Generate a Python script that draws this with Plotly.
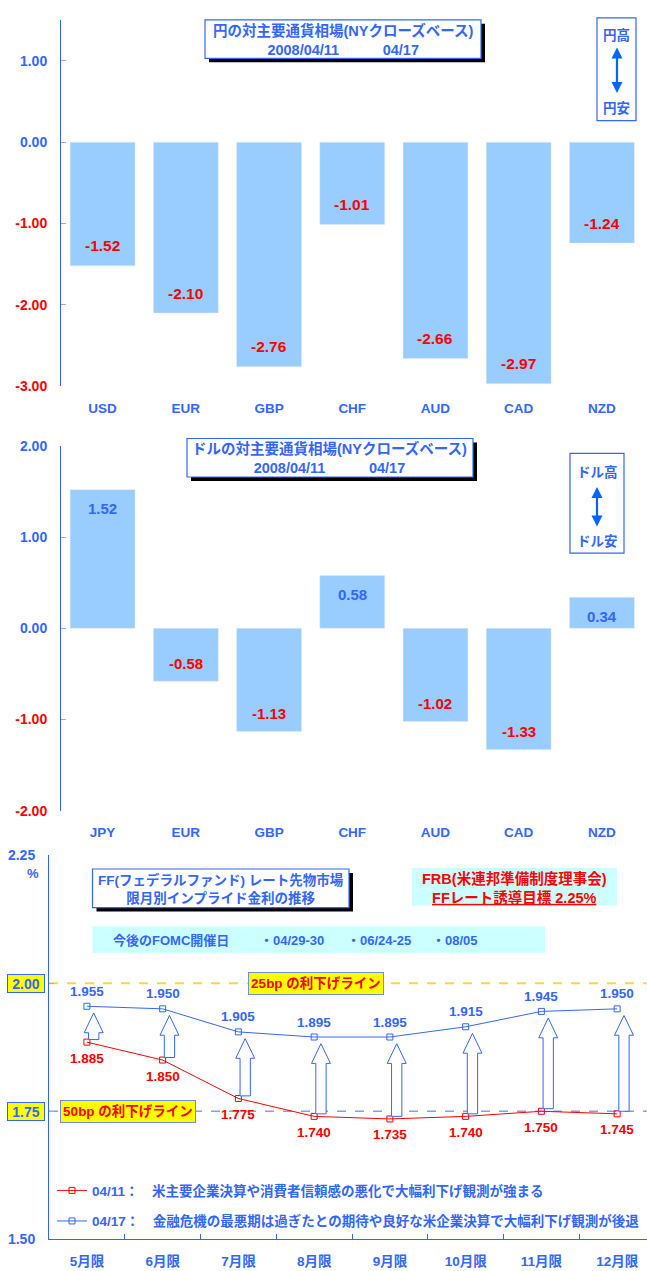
import plotly.graph_objects as go

W, H = 647, 1271

# ---------------- data ----------------
yen_categories = ["USD", "EUR", "GBP", "CHF", "AUD", "CAD", "NZD"]
yen_change = [-1.52, -2.10, -2.76, -1.01, -2.66, -2.97, -1.24]
yen_ticks = [1.0, 0.0, -1.0, -2.0, -3.0]

usd_categories = ["JPY", "EUR", "GBP", "CHF", "AUD", "CAD", "NZD"]
usd_change = [1.52, -0.58, -1.13, 0.58, -1.02, -1.33, 0.34]
usd_ticks = [2.0, 1.0, 0.0, -1.0, -2.0]

ff_months = ["5月限", "6月限", "7月限", "8月限", "9月限", "10月限", "11月限", "12月限"]
ff_0411 = [1.885, 1.850, 1.775, 1.740, 1.735, 1.740, 1.750, 1.745]
ff_0417 = [1.955, 1.950, 1.905, 1.895, 1.895, 1.915, 1.945, 1.950]
ff_ticks = [1.50, 1.75, 2.00, 2.25]
cut_25bp = 2.00
cut_50bp = 1.75

name_0411 = "04/11：　米主要企業決算や消費者信頼感の悪化で大幅利下げ観測が強まる"
name_0417 = "04/17：　金融危機の最悪期は過ぎたとの期待や良好な米企業決算で大幅利下げ観測が後退"

# ---------------- style ----------------
BLUE = "#3366FF"
RED = "#FF0000"
BAR = "#99CCFF"
FONT = "Liberation Sans, Arial, Noto Sans CJK JP"


def px(x):
    return x / W


def py(y):
    return 1 - y / H


def tick_text(vals):
    out = []
    for v in vals:
        s = f"{v:.2f}"
        out.append(f'<span style="color:{RED}">{s}</span>' if v < 0 else s)
    return out


Y1_RANGE = [-3, 1.5]
Y2_RANGE = [-2, 2]
Y3_RANGE = [1.5, 2.25]
Y1_DOM = [py(383), py(12.5)]
Y2_DOM = [py(813), py(443.5)]
Y3_DOM = [py(1247), py(858)]
X12_DOM = [px(61), px(643.5)]
X3_DOM = [px(49), 1.0]


def zero_pos(rng, dom):
    return dom[0] + (0 - rng[0]) / (rng[1] - rng[0]) * (dom[1] - dom[0])


fig = go.Figure()

fig.add_trace(go.Bar(x=yen_categories, y=yen_change, marker_color=BAR,
                     xaxis="x", yaxis="y", showlegend=False, hoverinfo="skip"))
fig.add_trace(go.Bar(x=usd_categories, y=usd_change, marker_color=BAR,
                     xaxis="x2", yaxis="y2", showlegend=False, hoverinfo="skip"))

fig.add_trace(go.Scatter(x=ff_months, y=ff_0411, mode="lines+markers", name=name_0411,
                         line=dict(color=RED, width=1),
                         marker=dict(symbol="square-open", size=6, color=RED),
                         xaxis="x3", yaxis="y3", legendgroup="a"))
fig.add_trace(go.Scatter(x=ff_months, y=ff_0417, mode="lines+markers", name=name_0417,
                         line=dict(color=BLUE, width=1),
                         marker=dict(symbol="square-open", size=6, color=BLUE),
                         xaxis="x3", yaxis="y3", legendgroup="b"))

tickfont = dict(family=FONT, size=14, color=BLUE, weight="bold")
xtickfont = dict(family=FONT, size=13.5, color=BLUE, weight="bold")

common_y = dict(showgrid=False, zeroline=False, showline=True, linecolor=BLUE, linewidth=1,
                ticks="inside", ticklen=5, tickcolor="#8FAEFF", tickfont=tickfont,
                ticklabelstandoff=10, autorange=False)

layout = dict(
    width=W, height=H, margin=dict(l=0, r=0, t=0, b=0),
    paper_bgcolor="white", plot_bgcolor="white",
    bargap=0.22,
    font=dict(family=FONT, color=BLUE),
    xaxis=dict(domain=X12_DOM, anchor="y", type="category", range=[-0.5, 6.5],
               showgrid=False, showline=False, ticks="", tickfont=xtickfont, ticklabelstandoff=12),
    yaxis=dict(domain=Y1_DOM, anchor="x", range=Y1_RANGE, tickvals=yen_ticks,
               ticktext=tick_text(yen_ticks), **common_y),
    xaxis2=dict(domain=X12_DOM, anchor="y2", type="category", range=[-0.5, 6.5],
                showgrid=False, showline=False, ticks="", tickfont=xtickfont, ticklabelstandoff=12),
    yaxis2=dict(domain=Y2_DOM, anchor="x2", range=Y2_RANGE, tickvals=usd_ticks,
                ticktext=tick_text(usd_ticks), **common_y),
    xaxis3=dict(domain=X3_DOM, anchor="y3", type="category", range=[-0.5, 7.394],
                showgrid=False, showline=True, linecolor=BLUE, linewidth=1,
                ticks="inside", tickson="boundaries", ticklen=5, tickcolor=BLUE,
                tickfont=xtickfont, ticklabelstandoff=9),
    yaxis3=dict(domain=Y3_DOM, anchor="x3", range=Y3_RANGE, tickvals=ff_ticks,
                ticktext=[f"{v:.2f}" if v not in (cut_25bp, cut_50bp) else "" for v in ff_ticks],
                **common_y),
    # zero lines with boundary ticks
    xaxis4=dict(overlaying="x", anchor="free", position=zero_pos(Y1_RANGE, Y1_DOM),
                range=[-0.5, 6.5], tickvals=[i + 0.5 for i in range(len(yen_categories) - 1)],
                ticks="inside", ticklen=5, tickcolor=BLUE, showline=True, linecolor="#8FAEFF",
                linewidth=2, showticklabels=False, showgrid=False, zeroline=False),
    xaxis5=dict(overlaying="x2", anchor="free", position=zero_pos(Y2_RANGE, Y2_DOM),
                range=[-0.5, 6.5], tickvals=[i + 0.5 for i in range(len(usd_categories) - 1)],
                ticks="inside", ticklen=5, tickcolor=BLUE, showline=True, linecolor=BLUE,
                linewidth=1.5, showticklabels=False, showgrid=False, zeroline=False),
    legend=dict(x=px(52), y=py(1182), xanchor="left", yanchor="top",
                bgcolor="rgba(0,0,0,0)", traceorder="grouped", tracegroupgap=10,
                font=dict(family=FONT, size=13.5, color=BLUE, weight="bold")),
    showlegend=True,
)
fig.update_layout(**layout)

shapes = []
annotations = []


def ann(text, x, y, size=13.5, color=BLUE, **kw):
    d = dict(text=text, x=px(x), y=py(y), xref="paper", yref="paper", showarrow=False,
             xanchor="center", yanchor="middle",
             font=dict(family=FONT, size=size, color=color, weight="bold"))
    d.update(kw)
    annotations.append(d)


def box(x0, y0, x1, y1, fill="white", line=BLUE, lw=1.2, shadow=False):
    if shadow:
        shapes.append(dict(type="rect", xref="paper", yref="paper",
                           x0=px(x0 + 4), x1=px(x1 + 4), y0=py(y1 + 4), y1=py(y0 + 4),
                           fillcolor="black", line=dict(width=0), layer="above"))
    shapes.append(dict(type="rect", xref="paper", yref="paper",
                       x0=px(x0), x1=px(x1), y0=py(y1), y1=py(y0),
                       fillcolor=fill, line=dict(color=line, width=lw) if line else dict(width=0),
                       layer="above"))


# --- bar value labels ---
for c, v in zip(yen_categories, yen_change):
    annotations.append(dict(text=f"{v:.2f}", x=c, y=v, xref="x", yref="y", showarrow=False,
                            xanchor="center", yanchor="middle",
                            yshift=20 if v < 0 else -18,
                            font=dict(family=FONT, size=15.5, weight="bold",
                                      color=RED if v < 0 else BLUE)))
for c, v in zip(usd_categories, usd_change):
    annotations.append(dict(text=f"{v:.2f}", x=c, y=v, xref="x2", yref="y2", showarrow=False,
                            xanchor="center", yanchor="middle",
                            yshift=18 if v < 0 else -19,
                            font=dict(family=FONT, size=15, weight="bold",
                                      color=RED if v < 0 else BLUE)))

# --- chart 1 boxes ---
box(205, 12, 481, 51, shadow=True)
ann("円の対主要通貨相場(NYクローズベース)<br>2008/04/11　　　04/17", 343, 32, size=14.5)
box(597, 10, 636, 114)
ann("円高", 616.5, 27, size=13.5)
ann("円安", 616.5, 102, size=13.5)
annotations.append(dict(text="", x=px(617), y=py(40), xref="paper", yref="paper",
                        ax=0, ay=47, showarrow=True, arrowside="end+start", arrowhead=2,
                        arrowsize=1, arrowwidth=2.2, arrowcolor="#0066FF"))

# --- chart 2 boxes ---
box(187, 436, 473, 475, shadow=True)
ann("ドルの対主要通貨相場(NYクローズベース)<br>2008/04/11　　　04/17", 330, 456, size=14.5)
box(570, 451, 624, 552)
ann("ドル高", 597, 470, size=13.5)
ann("ドル安", 597, 540, size=13.5)
annotations.append(dict(text="", x=px(597), y=py(485), xref="paper", yref="paper",
                        ax=0, ay=41, showarrow=True, arrowside="end+start", arrowhead=2,
                        arrowsize=1, arrowwidth=2.2, arrowcolor="#0066FF"))

# --- chart 3 boxes ---
box(92.5, 872, 349, 911, shadow=True)
ann("FF(フェデラルファンド) レート先物市場<br>限月別インプライド金利の推移", 221, 892)
box(412, 871, 617, 909, fill="#CCFFFF", line=None)
ann("FRB(米連邦準備制度理事会)<br><u>FFレート誘導目標 2.25%</u>", 514.5, 891, size=14.5, color=RED)
box(92.5, 930, 545, 957, fill="#CCFFFF", line=None)
ann("今後のFOMC開催日", 111, 944, xanchor="left", size=13)
ann("・04/29-30", 258, 944, xanchor="left", size=13)
ann("・06/24-25", 345, 944, xanchor="left", size=13)
ann("・08/05", 430, 944, xanchor="left", size=13)
ann("%", 33, 877, size=13)

# reference lines
shapes.append(dict(type="line", xref="x3 domain", yref="y3", x0=0, x1=1, y0=cut_25bp, y1=cut_25bp,
                   line=dict(color="#FFD24D", width=2, dash="dash"), layer="below"))
shapes.append(dict(type="line", xref="x3 domain", yref="y3", x0=0, x1=1, y0=cut_50bp, y1=cut_50bp,
                   line=dict(color="#7F9FFF", width=1.5, dash="dash"), layer="below"))

# yellow tick label boxes
for v in (cut_25bp, cut_50bp):
    annotations.append(dict(text=f"{v:.2f}", x=px(26), y=v, xref="paper", yref="y3",
                            xanchor="center", yanchor="middle",
                            showarrow=False, bgcolor="#FFFF00", bordercolor=BLUE, borderwidth=1,
                            borderpad=1, width=34, height=15,
                            font=dict(family=FONT, size=14, color=BLUE, weight="bold")))
annotations.append(dict(text="25bp の利下げライン", x=px(316), y=cut_25bp, xref="paper", yref="y3",
                        xanchor="center", yanchor="middle",
                        showarrow=False, bgcolor="#FFFF00", bordercolor="#6F8FD8", borderwidth=1,
                        borderpad=1, width=132, height=19,
                        font=dict(family=FONT, size=13.5, color=RED, weight="bold")))
annotations.append(dict(text="50bp の利下げライン", x=px(128), y=cut_50bp, xref="paper", yref="y3",
                        xanchor="center", yanchor="middle",
                        showarrow=False, bgcolor="#FFFF00", bordercolor="#6F8FD8", borderwidth=1,
                        borderpad=1, width=132, height=19,
                        font=dict(family=FONT, size=13.5, color=RED, weight="bold")))

# hollow block arrows from 04/11 to 04/17
SW, HW, XOFF = 0.068, 0.125, 0.09
HEAD = 20 / ((Y3_DOM[1] - Y3_DOM[0]) * H) * (Y3_RANGE[1] - Y3_RANGE[0])
for i, (r, b) in enumerate(zip(ff_0411, ff_0417)):
    xc = i + XOFF
    y0 = r + 0.005
    y1 = b - 0.013
    yh = y1 - HEAD
    path = (f"M {xc - SW},{y0} L {xc - SW},{yh} L {xc - HW},{yh} L {xc},{y1} "
            f"L {xc + HW},{yh} L {xc + SW},{yh} L {xc + SW},{y0} Z")
    shapes.append(dict(type="path", xref="x3", yref="y3", path=path, fillcolor="white",
                       line=dict(color=BLUE, width=1), layer="above"))

# line value labels
for m, v in zip(ff_months, ff_0417):
    annotations.append(dict(text=f"{v:.3f}", x=m, y=v, xref="x3", yref="y3", showarrow=False,
                            xanchor="center", yanchor="middle",
                            yshift=15, font=dict(family=FONT, size=13.5, color=BLUE, weight="bold")))
for m, v in zip(ff_months, ff_0411):
    annotations.append(dict(text=f"{v:.3f}", x=m, y=v, xref="x3", yref="y3", showarrow=False,
                            xanchor="center", yanchor="middle",
                            yshift=-16, font=dict(family=FONT, size=13.5, color=RED, weight="bold")))

fig.update_layout(shapes=shapes, annotations=annotations)
fig.write_html("out.html")
